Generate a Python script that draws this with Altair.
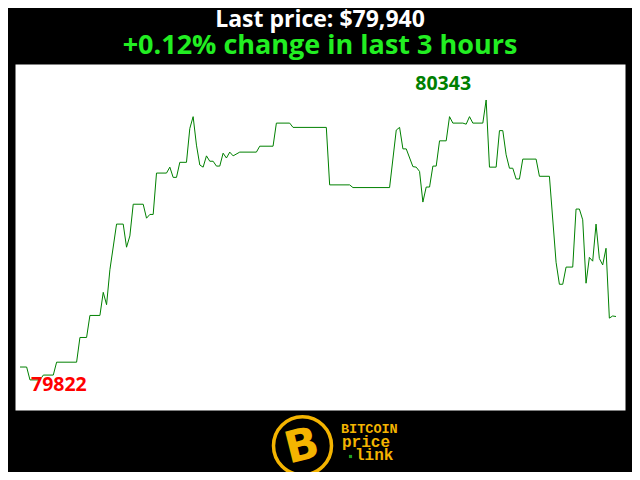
import altair as alt
import pandas as pd

# ---- data (minute index within the 3-hour window, price in USD)
minutes = [0, 2, 3, 6, 7, 10, 11, 17, 18, 20,
           21, 24, 25, 26, 27, 29, 31, 32, 33, 34,
           37, 38, 39, 40, 41, 44, 45, 46, 47, 48,
           50, 51, 52, 53, 54, 55, 56, 57, 58, 59,
           60, 61, 62, 63, 64, 66, 71, 72, 76, 77,
           81, 82, 92, 93, 99, 100, 111, 113, 114, 115,
           116, 118, 119, 120, 121, 122, 123, 124, 125, 126,
           128, 129, 130, 133, 134, 135, 136, 139, 140, 141,
           143, 144, 145, 146, 147, 148, 149, 150, 151, 155,
           156, 159, 161, 162, 163, 164, 166, 167, 168, 169,
           170, 171, 172, 173, 174, 175, 176, 177, 178, 179]
prices = [79846, 79846, 79822, 79822, 79831, 79831, 79855, 79855, 79901, 79901,
          79942, 79942, 79985, 79962, 80027, 80112, 80112, 80069, 80090, 80149,
          80149, 80123, 80130, 80130, 80207, 80207, 80218, 80199, 80199, 80227,
          80227, 80290, 80312, 80259, 80222, 80218, 80239, 80229, 80229, 80220,
          80220, 80244, 80235, 80246, 80239, 80246, 80246, 80257, 80257, 80300,
          80300, 80292, 80292, 80185, 80185, 80180, 80180, 80287, 80292, 80252,
          80252, 80219, 80218, 80210, 80153, 80181, 80181, 80220, 80220, 80267,
          80267, 80312, 80300, 80300, 80298, 80312, 80300, 80300, 80343, 80218,
          80218, 80286, 80286, 80241, 80216, 80216, 80196, 80196, 80233, 80233,
          80201, 80201, 80041, 80000, 80000, 80032, 80032, 80140, 80140, 80120,
          80002, 80050, 80043, 80112, 80048, 80036, 80067, 79937, 79941, 79940]

title_text = "Last price: $79,940"
subtitle_text = "+0.12% change in last 3 hours"
logo_lines = ["BITCOIN", "price", "link"]

GREEN_LINE = "#008000"
GREEN_SUB = "#22ee22"
YELLOW = "#f4b400"

df = pd.DataFrame({"minute": minutes, "price": prices})
imin = df["price"].idxmin()
imax = df["price"].idxmax()
min_df = df.loc[[imin]].assign(label=lambda d: d["price"].astype(str))
max_df = df.loc[[imax]].assign(label=lambda d: d["price"].astype(str))

x = alt.X("minute:Q", scale=alt.Scale(domain=[-1.5, 181.7], nice=False, zero=False), axis=None)
y = alt.Y("price:Q", scale=alt.Scale(domain=[79766, 80410], nice=False, zero=False), axis=None)

line = alt.Chart(df).mark_line(color=GREEN_LINE, strokeWidth=1).encode(x=x, y=y)

min_text = alt.Chart(min_df).mark_text(
    align="left", baseline="alphabetic", dx=1, dy=11,
    font="Open Sans", fontSize=19.5, fontWeight="bold", color="#ff0000"
).encode(x=x, y=y, text="label:N")

max_text = alt.Chart(max_df).mark_text(
    align="center", baseline="alphabetic", dx=-43, dy=-10,
    font="Open Sans", fontSize=19.5, fontWeight="bold", color=GREEN_LINE
).encode(x=x, y=y, text="label:N")

# ---- logo below the plot (decorative)
one = pd.DataFrame({"k": [0]})
ring = alt.Chart(one).mark_point(
    shape="circle", size=3364, filled=False, color=YELLOW, strokeWidth=3.5, opacity=1
).encode(x=alt.value(287.5), y=alt.value(381.8))
bsym = alt.Chart(one).mark_text(
    text="B", font="DejaVu Sans", fontSize=44, fontWeight="bold", color=YELLOW,
    angle=346, align="center", baseline="middle"
).encode(x=alt.value(287), y=alt.value(383))
t1 = alt.Chart(one).mark_text(
    text=logo_lines[0], font="Liberation Mono", fontSize=13.5, fontWeight="bold",
    color=YELLOW, align="left", baseline="alphabetic"
).encode(x=alt.value(326), y=alt.value(369))
t2 = alt.Chart(one).mark_text(
    text=logo_lines[1], font="Liberation Mono", fontSize=16, fontWeight="bold",
    color=YELLOW, align="left", baseline="alphabetic"
).encode(x=alt.value(327), y=alt.value(382.5))
t3 = alt.Chart(one).mark_text(
    text=logo_lines[2], font="Liberation Mono", fontSize=16, fontWeight="bold",
    color=YELLOW, align="left", baseline="alphabetic"
).encode(x=alt.value(340), y=alt.value(396))
dot = alt.Chart(one).mark_point(
    shape="square", size=10, filled=True, color="#1fa01f", opacity=1
).encode(x=alt.value(335.5), y=alt.value(392.5))

chart = alt.layer(line, min_text, max_text, ring, bsym, t1, t2, t3, dot).properties(
    width=610,
    height=346,
    autosize=alt.AutoSizeParams(type="none"),
    padding={"left": 7, "top": 56, "right": 7, "bottom": 62},
    background="black",
    title=alt.TitleParams(
        text=title_text, subtitle=subtitle_text, anchor="middle",
        font="Open Sans", fontSize=23, fontWeight="bold", color="white",
        subtitleFont="Open Sans", subtitleFontSize=27, subtitleFontWeight="bold",
        subtitleColor=GREEN_SUB, offset=5, subtitlePadding=1, baseline="top",
    ),
).configure_view(fill="white", stroke="transparent")

chart.save("out.html", embed_options={"renderer": "svg", "actions": False})
